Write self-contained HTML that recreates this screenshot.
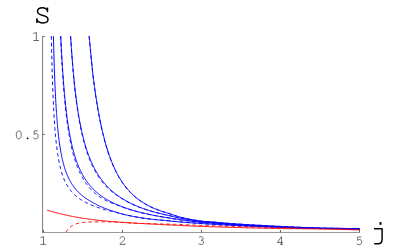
<!DOCTYPE html>
<html><head><meta charset="utf-8"><style>
html,body{margin:0;padding:0;background:#fff;}
body{width:403px;height:249px;overflow:hidden;position:relative;font-family:"Liberation Mono",monospace;color:#000;}
svg{position:absolute;left:0;top:0;}
</style></head><body>
<svg width="403" height="249" viewBox="0 0 403 249">
<g stroke="#333" stroke-width="0.65" fill="none">
<path d="M42.6 36.2V232.7"/>
<path d="M42.3 232.5H359.8" stroke-width="0.5"/>
<path d="M42.6 36.5H45.1"/>
<path d="M42.6 134.45H45.1"/>
<path stroke-width="0.75" d="M43.5 232.4V230M122.5 232.4V230M201.5 232.4V230M280.5 232.4V230M359.5 232.4V230"/>
</g>
<path d="M53.44 36.20 L53.49 38.33 L53.56 41.56 L53.64 44.69 L53.72 47.70 L53.80 50.62 L53.88 53.44 L53.95 56.16 L54.03 58.80 L54.11 61.36 L54.19 63.84 L54.27 66.24 L54.35 68.56 L54.42 70.82 L54.50 73.01 L54.58 75.13 L54.66 77.20 L54.74 79.20 L54.81 81.15 L54.89 83.05 L54.97 84.89 L55.05 86.69 L55.13 88.43 L55.20 90.13 L55.28 91.79 L55.36 93.40 L55.44 94.97 L55.52 96.50 L55.59 98.00 L55.67 99.45 L55.75 100.87 L55.83 102.26 L55.91 103.62 L55.99 104.94 L56.06 106.23 L56.14 107.49 L56.22 108.73 L56.30 109.93 L56.38 111.11 L56.45 112.27 L56.53 113.39 L56.61 114.50 L56.69 115.58 L56.77 116.64 L56.84 117.67 L56.92 118.69 L57.00 119.68 L57.08 120.65 L57.16 121.61 L57.24 122.54 L57.31 123.46 L57.39 124.35 L57.47 125.24 L57.55 126.10 L57.63 126.95 L57.70 127.78 L57.78 128.60 L57.86 129.40 L58.02 130.96 L58.17 132.46 L58.33 133.91 L58.48 135.32 L58.64 136.67 L58.80 137.98 L58.95 139.25 L59.11 140.48 L59.27 141.66 L59.42 142.81 L59.58 143.93 L59.73 145.01 L59.89 146.07 L60.05 147.09 L60.20 148.08 L60.36 149.04 L60.52 149.98 L60.67 150.89 L60.83 151.77 L60.98 152.64 L61.14 153.48 L61.30 154.30 L61.45 155.09 L61.69 156.25 L61.92 157.37 L62.16 158.45 L62.39 159.49 L62.62 160.49 L62.86 161.46 L63.09 162.40 L63.33 163.30 L63.56 164.18 L63.80 165.03 L64.03 165.86 L64.27 166.65 L64.50 167.43 L64.81 168.43 L65.12 169.39 L65.44 170.32 L65.75 171.21 L66.06 172.07 L66.37 172.90 L66.69 173.70 L67.00 174.48 L67.31 175.23 L67.70 176.13 L68.09 177.00 L68.48 177.84 L68.87 178.64 L69.26 179.42 L69.65 180.17 L70.05 180.89 L70.44 181.59 L70.90 182.40 L71.37 183.18 L71.84 183.92 L72.31 184.65 L72.78 185.34 L73.25 186.01 L73.72 186.66 L74.26 187.39 L74.81 188.09 L75.36 188.77 L75.90 189.42 L76.45 190.05 L77.00 190.66 L77.54 191.25 L78.17 191.90 L78.79 192.52 L79.42 193.13 L80.04 193.71 L80.67 194.27 L81.29 194.82 L81.92 195.34 L82.54 195.86 L83.25 196.41 L83.95 196.95 L84.65 197.47 L85.35 197.98 L86.06 198.47 L86.76 198.95 L87.46 199.41 L88.17 199.87 L88.87 200.31 L89.57 200.75 L90.28 201.17 L90.98 201.59 L91.68 202.00 L92.38 202.39 L93.09 202.78 L93.79 203.17 L94.57 203.58 L95.35 203.99 L96.13 204.39 L96.92 204.78 L97.70 205.16 L98.48 205.53 L99.26 205.90 L100.04 206.26 L100.82 206.61 L101.60 206.95 L102.38 207.29 L103.16 207.62 L103.95 207.94 L104.73 208.26 L105.51 208.57 L106.29 208.87 L107.07 209.17 L107.85 209.46 L108.63 209.75 L109.41 210.02 L110.19 210.30 L110.98 210.56 L111.76 210.83 L112.54 211.09 L113.32 211.35 L114.10 211.61 L114.88 211.86 L115.66 212.11 L116.44 212.36 L117.22 212.60 L118.00 212.84 L118.79 213.07 L119.57 213.29 L120.35 213.51 L121.13 213.73 L121.91 213.94 L122.69 214.14 L123.47 214.33 L124.25 214.52 L125.03 214.70 L125.82 214.88 L126.60 215.05 L127.46 215.24 L128.32 215.43 L129.17 215.61 L130.03 215.79 L130.89 215.96 L131.75 216.13 L132.61 216.30 L133.47 216.47 L134.33 216.64 L135.19 216.80 L136.05 216.96 L136.91 217.11 L137.77 217.26 L138.63 217.40 L139.49 217.54 L140.34 217.68 L141.20 217.81 L142.06 217.94 L142.92 218.06 L143.78 218.19 L144.64 218.31 L145.50 218.42 L146.36 218.54 L147.22 218.66 L148.08 218.77 L148.94 218.88 L149.80 218.99 L150.66 219.09 L151.51 219.19 L152.37 219.28 L153.23 219.38 L154.09 219.47 L154.95 219.55 L155.81 219.64 L156.67 219.72 L157.53 219.80 L158.39 219.88 L159.25 219.96 L160.11 220.04 L160.97 220.12 L161.82 220.20 L162.68 220.27 L163.54 220.35 L164.40 220.43 L165.26 220.51 L166.12 220.59 L166.98 220.67 L167.84 220.76 L168.70 220.84 L169.56 220.93 L170.42 221.01 L171.28 221.10 L172.14 221.18 L172.99 221.27 L173.85 221.35 L174.71 221.43 L175.57 221.51 L176.43 221.59 L177.29 221.67 L178.15 221.75 L179.01 221.83 L179.87 221.90 L180.73 221.98 L181.59 222.06 L182.45 222.13 L183.31 222.20 L184.16 222.27 L185.02 222.34 L185.88 222.41 L186.74 222.48 L187.60 222.55 L188.46 222.61 L189.32 222.68 L190.18 222.74 L191.04 222.80 L191.90 222.87 L192.76 222.93 L193.62 222.99 L194.47 223.05 L195.33 223.11 L196.19 223.17 L197.05 223.23 L197.91 223.29 L198.77 223.35 L199.63 223.41 L200.49 223.46 L201.35 223.52 L202.21 223.58 L203.07 223.64 L203.93 223.69 L204.79 223.75 L205.64 223.80 L206.50 223.86 L207.36 223.91 L208.22 223.97 L209.08 224.02 L209.94 224.07 L210.80 224.12 L211.66 224.18 L212.52 224.23 L213.38 224.28 L214.24 224.33 L215.10 224.38 L215.96 224.44 L216.81 224.49 L217.67 224.54 L218.53 224.59 L219.39 224.64 L220.25 224.69 L221.11 224.75 L221.97 224.80 L222.83 224.85 L223.69 224.90 L224.55 224.95 L225.41 225.00 L226.27 225.04 L227.13 225.09 L227.98 225.14 L228.84 225.19 L229.70 225.24 L230.56 225.28 L231.42 225.33 L232.28 225.37 L233.14 225.42 L234.00 225.46 L234.86 225.51 L235.72 225.55 L236.58 225.60 L237.44 225.64 L238.29 225.68 L239.15 225.72 L240.01 225.77 L240.87 225.81 L241.73 225.85 L242.59 225.89 L243.45 225.93 L244.31 225.97 L245.17 226.01 L246.03 226.05 L246.89 226.09 L247.75 226.13 L248.61 226.17 L249.46 226.21 L250.32 226.25 L251.18 226.28 L252.04 226.32 L252.90 226.36 L253.76 226.40 L254.62 226.43 L255.48 226.47 L256.34 226.50 L257.20 226.54 L258.06 226.58 L258.92 226.61 L259.78 226.65 L260.63 226.68 L261.49 226.71 L262.35 226.75 L263.21 226.78 L264.07 226.82 L264.93 226.85 L265.79 226.88 L266.65 226.91 L267.51 226.95 L268.37 226.98 L269.23 227.01 L270.09 227.04 L270.94 227.07 L271.80 227.10 L272.66 227.14 L273.52 227.17 L274.38 227.20 L275.24 227.23 L276.10 227.26 L276.96 227.29 L277.82 227.32 L278.68 227.34 L279.54 227.37 L280.40 227.40 L281.26 227.43 L282.11 227.46 L282.97 227.49 L283.83 227.52 L284.69 227.54 L285.55 227.57 L286.41 227.60 L287.27 227.63 L288.13 227.65 L288.99 227.68 L289.85 227.70 L290.71 227.73 L291.57 227.76 L292.43 227.78 L293.28 227.81 L294.14 227.83 L295.00 227.86 L295.86 227.88 L296.72 227.91 L297.58 227.93 L298.44 227.96 L299.30 227.98 L300.16 228.01 L301.02 228.03 L301.88 228.06 L302.74 228.08 L303.59 228.10 L304.45 228.13 L305.31 228.15 L306.17 228.17 L307.03 228.19 L307.89 228.22 L308.75 228.24 L309.61 228.26 L310.47 228.28 L311.33 228.31 L312.19 228.33 L313.05 228.35 L313.91 228.37 L314.76 228.39 L315.62 228.41 L316.48 228.43 L317.34 228.45 L318.20 228.46 L319.06 228.48 L319.92 228.49 L320.78 228.50 L321.64 228.51 L322.50 228.52 L323.36 228.52 L324.22 228.53 L325.08 228.53 L325.93 228.54 L326.79 228.54 L327.65 228.54 L328.51 228.55 L329.37 228.55 L330.23 228.55 L331.09 228.55 L331.95 228.55 L332.81 228.55 L333.67 228.56 L334.53 228.56 L335.39 228.56 L336.25 228.56 L337.10 228.57 L337.96 228.57 L338.82 228.58 L339.68 228.59 L340.54 228.59 L341.40 228.60 L342.26 228.61 L343.12 228.63 L343.98 228.64 L344.84 228.65 L345.70 228.67 L346.56 228.69 L347.41 228.70 L348.27 228.72 L349.13 228.74 L349.99 228.75 L350.85 228.77 L351.71 228.79 L352.57 228.80 L353.43 228.82 L354.29 228.83 L355.15 228.85 L356.01 228.86 L356.87 228.88 L357.73 228.89 L358.58 228.91 L359.44 228.92 L359.60 228.93" fill="none" stroke="#0000ff" stroke-width="1.0"/>
<path d="M60.77 36.20 L60.84 37.69 L60.92 39.36 L61.00 41.00 L61.07 42.62 L61.15 44.21 L61.23 45.77 L61.31 47.31 L61.39 48.83 L61.47 50.32 L61.55 51.79 L61.63 53.23 L61.70 54.66 L61.78 56.06 L61.86 57.44 L61.94 58.80 L62.02 60.15 L62.10 61.47 L62.18 62.77 L62.26 64.05 L62.33 65.31 L62.41 66.56 L62.49 67.79 L62.57 69.00 L62.65 70.19 L62.73 71.37 L62.81 72.53 L62.88 73.67 L62.96 74.80 L63.04 75.91 L63.12 77.01 L63.20 78.09 L63.28 79.16 L63.36 80.21 L63.44 81.25 L63.51 82.27 L63.59 83.29 L63.67 84.28 L63.75 85.27 L63.83 86.24 L63.91 87.20 L63.99 88.15 L64.06 89.08 L64.14 90.01 L64.22 90.92 L64.30 91.82 L64.38 92.71 L64.46 93.58 L64.54 94.45 L64.62 95.31 L64.69 96.15 L64.77 96.99 L64.85 97.81 L64.93 98.63 L65.01 99.43 L65.17 101.02 L65.32 102.56 L65.48 104.07 L65.64 105.54 L65.80 106.98 L65.95 108.39 L66.11 109.77 L66.27 111.11 L66.43 112.43 L66.58 113.72 L66.74 114.98 L66.90 116.21 L67.05 117.42 L67.21 118.60 L67.37 119.76 L67.53 120.89 L67.68 122.01 L67.84 123.09 L68.00 124.16 L68.16 125.21 L68.31 126.23 L68.47 127.24 L68.63 128.22 L68.79 129.19 L68.94 130.14 L69.10 131.07 L69.26 131.98 L69.42 132.88 L69.57 133.76 L69.73 134.63 L69.89 135.48 L70.04 136.31 L70.20 137.13 L70.36 137.94 L70.52 138.73 L70.75 139.89 L70.99 141.02 L71.23 142.12 L71.46 143.20 L71.70 144.25 L71.93 145.27 L72.17 146.27 L72.41 147.25 L72.64 148.20 L72.88 149.13 L73.11 150.04 L73.35 150.93 L73.59 151.80 L73.82 152.65 L74.06 153.48 L74.29 154.30 L74.53 155.09 L74.77 155.87 L75.08 156.89 L75.40 157.87 L75.71 158.83 L76.02 159.76 L76.34 160.67 L76.65 161.56 L76.97 162.42 L77.28 163.26 L77.60 164.08 L77.91 164.88 L78.23 165.66 L78.54 166.43 L78.86 167.17 L79.25 168.07 L79.64 168.95 L80.04 169.81 L80.43 170.64 L80.82 171.45 L81.22 172.23 L81.61 173.00 L82.00 173.74 L82.40 174.47 L82.79 175.18 L83.26 176.00 L83.74 176.80 L84.21 177.58 L84.68 178.33 L85.15 179.07 L85.62 179.78 L86.10 180.47 L86.57 181.15 L87.04 181.81 L87.59 182.55 L88.14 183.28 L88.69 183.98 L89.24 184.66 L89.79 185.32 L90.35 185.97 L90.90 186.59 L91.45 187.20 L92.00 187.80 L92.63 188.45 L93.26 189.09 L93.89 189.72 L94.52 190.32 L95.14 190.91 L95.77 191.48 L96.40 192.03 L97.03 192.57 L97.66 193.10 L98.29 193.62 L98.92 194.12 L99.63 194.66 L100.34 195.20 L101.05 195.72 L101.75 196.22 L102.46 196.71 L103.17 197.19 L103.88 197.66 L104.59 198.12 L105.29 198.56 L106.00 199.00 L106.71 199.42 L107.42 199.83 L108.13 200.24 L108.84 200.63 L109.54 201.02 L110.25 201.40 L111.04 201.81 L111.83 202.21 L112.61 202.60 L113.40 202.98 L114.19 203.36 L114.97 203.72 L115.76 204.08 L116.55 204.43 L117.33 204.77 L118.12 205.10 L118.91 205.43 L119.69 205.75 L120.48 206.07 L121.27 206.37 L122.05 206.68 L122.84 206.97 L123.63 207.26 L124.42 207.55 L125.20 207.83 L125.99 208.10 L126.78 208.37 L127.56 208.63 L128.35 208.89 L129.14 209.15 L129.92 209.40 L130.71 209.64 L131.50 209.88 L132.28 210.12 L133.07 210.35 L133.86 210.58 L134.64 210.81 L135.43 211.03 L136.22 211.25 L137.00 211.46 L137.79 211.68 L138.58 211.88 L139.36 212.09 L140.15 212.29 L140.94 212.49 L141.73 212.68 L142.51 212.88 L143.30 213.06 L144.09 213.25 L144.87 213.44 L145.66 213.62 L146.45 213.80 L147.23 213.97 L148.02 214.14 L148.81 214.32 L149.59 214.48 L150.38 214.65 L151.17 214.81 L151.95 214.97 L152.74 215.13 L153.53 215.29 L154.31 215.44 L155.10 215.59 L155.89 215.74 L156.68 215.88 L157.54 216.04 L158.41 216.19 L159.27 216.35 L160.14 216.50 L161.00 216.65 L161.87 216.79 L162.73 216.94 L163.60 217.08 L164.46 217.22 L165.33 217.36 L166.20 217.50 L167.06 217.64 L167.93 217.77 L168.79 217.91 L169.66 218.05 L170.52 218.20 L171.39 218.35 L172.25 218.50 L173.12 218.65 L173.99 218.80 L174.85 218.95 L175.72 219.10 L176.58 219.25 L177.45 219.39 L178.31 219.53 L179.18 219.66 L180.04 219.78 L180.91 219.90 L181.78 220.02 L182.64 220.14 L183.51 220.26 L184.37 220.38 L185.24 220.49 L186.10 220.60 L186.97 220.71 L187.83 220.82 L188.70 220.93 L189.56 221.03 L190.43 221.14 L191.30 221.24 L192.16 221.34 L193.03 221.44 L193.89 221.54 L194.76 221.64 L195.62 221.73 L196.49 221.83 L197.35 221.92 L198.22 222.01 L199.09 222.10 L199.95 222.19 L200.82 222.27 L201.68 222.35 L202.55 222.43 L203.41 222.51 L204.28 222.58 L205.14 222.65 L206.01 222.71 L206.88 222.78 L207.74 222.84 L208.61 222.90 L209.47 222.97 L210.34 223.03 L211.20 223.09 L212.07 223.16 L212.93 223.22 L213.80 223.29 L214.67 223.35 L215.53 223.42 L216.40 223.49 L217.26 223.55 L218.13 223.62 L218.99 223.68 L219.86 223.75 L220.72 223.81 L221.59 223.88 L222.45 223.94 L223.32 224.00 L224.19 224.07 L225.05 224.13 L225.92 224.19 L226.78 224.25 L227.65 224.31 L228.51 224.37 L229.38 224.43 L230.24 224.48 L231.11 224.54 L231.98 224.60 L232.84 224.66 L233.71 224.71 L234.57 224.77 L235.44 224.82 L236.30 224.88 L237.17 224.93 L238.03 224.98 L238.90 225.03 L239.77 225.09 L240.63 225.14 L241.50 225.19 L242.36 225.24 L243.23 225.29 L244.09 225.34 L244.96 225.39 L245.82 225.43 L246.69 225.48 L247.55 225.53 L248.42 225.58 L249.29 225.62 L250.15 225.67 L251.02 225.72 L251.88 225.76 L252.75 225.81 L253.61 225.85 L254.48 225.90 L255.34 225.94 L256.21 225.98 L257.08 226.03 L257.94 226.07 L258.81 226.11 L259.67 226.16 L260.54 226.20 L261.40 226.24 L262.27 226.28 L263.13 226.33 L264.00 226.37 L264.87 226.41 L265.73 226.45 L266.60 226.49 L267.46 226.53 L268.33 226.57 L269.19 226.61 L270.06 226.65 L270.92 226.69 L271.79 226.73 L272.65 226.77 L273.52 226.81 L274.39 226.85 L275.25 226.88 L276.12 226.92 L276.98 226.96 L277.85 227.00 L278.71 227.03 L279.58 227.07 L280.44 227.10 L281.31 227.14 L282.18 227.17 L283.04 227.21 L283.91 227.24 L284.77 227.28 L285.64 227.31 L286.50 227.35 L287.37 227.38 L288.23 227.41 L289.10 227.45 L289.97 227.48 L290.83 227.51 L291.70 227.54 L292.56 227.57 L293.43 227.61 L294.29 227.64 L295.16 227.67 L296.02 227.70 L296.89 227.73 L297.75 227.76 L298.62 227.79 L299.49 227.82 L300.35 227.85 L301.22 227.88 L302.08 227.91 L302.95 227.94 L303.81 227.97 L304.68 227.99 L305.54 228.02 L306.41 228.05 L307.28 228.08 L308.14 228.10 L309.01 228.13 L309.87 228.16 L310.74 228.19 L311.60 228.21 L312.47 228.24 L313.33 228.27 L314.20 228.29 L315.07 228.32 L315.93 228.34 L316.80 228.36 L317.66 228.38 L318.53 228.40 L319.39 228.42 L320.26 228.43 L321.12 228.45 L321.99 228.46 L322.85 228.47 L323.72 228.48 L324.59 228.49 L325.45 228.50 L326.32 228.51 L327.18 228.51 L328.05 228.52 L328.91 228.52 L329.78 228.53 L330.64 228.53 L331.51 228.54 L332.38 228.54 L333.24 228.55 L334.11 228.56 L334.97 228.56 L335.84 228.57 L336.70 228.57 L337.57 228.58 L338.43 228.59 L339.30 228.60 L340.17 228.61 L341.03 228.62 L341.90 228.64 L342.76 228.65 L343.63 228.67 L344.49 228.68 L345.36 228.70 L346.22 228.72 L347.09 228.74 L347.95 228.76 L348.82 228.78 L349.69 228.80 L350.55 228.82 L351.42 228.84 L352.28 228.86 L353.15 228.87 L354.01 228.89 L354.88 228.91 L355.74 228.93 L356.61 228.95 L357.48 228.96 L358.34 228.98 L359.21 229.00 L359.60 229.01" fill="none" stroke="#0000ff" stroke-width="1.0"/>
<path d="M70.65 36.20 L70.71 37.09 L70.79 38.32 L70.86 39.54 L70.94 40.74 L71.01 41.93 L71.09 43.11 L71.17 44.27 L71.24 45.41 L71.32 46.54 L71.40 47.66 L71.47 48.77 L71.55 49.86 L71.63 50.94 L71.70 52.01 L71.78 53.07 L71.85 54.11 L71.93 55.15 L72.01 56.17 L72.08 57.18 L72.16 58.17 L72.24 59.16 L72.31 60.14 L72.39 61.10 L72.47 62.06 L72.54 63.00 L72.62 63.94 L72.69 64.86 L72.77 65.78 L72.85 66.68 L72.92 67.58 L73.00 68.46 L73.08 69.34 L73.15 70.21 L73.23 71.07 L73.31 71.92 L73.38 72.76 L73.46 73.59 L73.53 74.41 L73.61 75.23 L73.69 76.04 L73.76 76.84 L73.92 78.41 L74.07 79.96 L74.22 81.47 L74.37 82.96 L74.53 84.41 L74.68 85.84 L74.83 87.24 L74.99 88.62 L75.14 89.97 L75.29 91.30 L75.44 92.60 L75.60 93.88 L75.75 95.14 L75.90 96.37 L76.05 97.59 L76.21 98.78 L76.36 99.95 L76.51 101.10 L76.67 102.23 L76.82 103.35 L76.97 104.44 L77.12 105.52 L77.28 106.58 L77.43 107.62 L77.58 108.65 L77.73 109.66 L77.89 110.65 L78.04 111.63 L78.19 112.59 L78.35 113.54 L78.50 114.47 L78.65 115.39 L78.80 116.30 L78.96 117.19 L79.11 118.07 L79.26 118.93 L79.41 119.78 L79.57 120.62 L79.72 121.45 L79.87 122.27 L80.03 123.07 L80.18 123.87 L80.41 125.04 L80.64 126.18 L80.87 127.31 L81.10 128.40 L81.32 129.48 L81.55 130.54 L81.78 131.57 L82.01 132.59 L82.24 133.58 L82.47 134.56 L82.70 135.52 L82.93 136.46 L83.16 137.38 L83.39 138.29 L83.62 139.18 L83.84 140.05 L84.07 140.91 L84.30 141.75 L84.53 142.58 L84.76 143.39 L84.99 144.19 L85.22 144.98 L85.45 145.75 L85.75 146.76 L86.06 147.75 L86.36 148.72 L86.67 149.66 L86.98 150.59 L87.28 151.50 L87.59 152.38 L87.89 153.25 L88.20 154.10 L88.50 154.94 L88.81 155.76 L89.11 156.56 L89.42 157.35 L89.72 158.12 L90.03 158.87 L90.34 159.62 L90.72 160.52 L91.10 161.41 L91.48 162.28 L91.86 163.13 L92.24 163.95 L92.63 164.76 L93.01 165.56 L93.39 166.33 L93.77 167.09 L94.15 167.84 L94.54 168.57 L94.92 169.28 L95.38 170.12 L95.83 170.93 L96.29 171.73 L96.75 172.51 L97.21 173.27 L97.67 174.01 L98.12 174.74 L98.58 175.45 L99.04 176.15 L99.50 176.83 L99.96 177.49 L100.49 178.25 L101.03 178.99 L101.56 179.71 L102.10 180.42 L102.63 181.10 L103.16 181.78 L103.70 182.43 L104.23 183.08 L104.77 183.70 L105.30 184.32 L105.84 184.92 L106.45 185.59 L107.06 186.24 L107.67 186.88 L108.28 187.50 L108.89 188.11 L109.50 188.71 L110.11 189.29 L110.72 189.86 L111.34 190.41 L111.95 190.95 L112.56 191.48 L113.17 192.00 L113.86 192.58 L114.54 193.13 L115.23 193.68 L115.92 194.21 L116.60 194.73 L117.29 195.24 L117.98 195.74 L118.67 196.22 L119.35 196.70 L120.04 197.16 L120.73 197.62 L121.42 198.06 L122.10 198.50 L122.79 198.93 L123.48 199.34 L124.17 199.75 L124.93 200.20 L125.69 200.64 L126.46 201.06 L127.22 201.48 L127.98 201.89 L128.75 202.29 L129.51 202.68 L130.27 203.06 L131.04 203.44 L131.80 203.81 L132.57 204.17 L133.33 204.52 L134.09 204.87 L134.86 205.21 L135.62 205.54 L136.38 205.87 L137.15 206.19 L137.91 206.50 L138.67 206.81 L139.44 207.12 L140.20 207.41 L140.97 207.71 L141.73 207.99 L142.49 208.27 L143.26 208.55 L144.02 208.82 L144.78 209.09 L145.55 209.35 L146.31 209.61 L147.07 209.86 L147.84 210.11 L148.60 210.36 L149.37 210.60 L150.21 210.86 L151.05 211.12 L151.89 211.36 L152.73 211.61 L153.57 211.84 L154.41 212.08 L155.25 212.30 L156.09 212.53 L156.93 212.75 L157.77 212.96 L158.61 213.17 L159.45 213.38 L160.29 213.58 L161.13 213.78 L161.97 213.98 L162.81 214.17 L163.65 214.36 L164.49 214.55 L165.33 214.74 L166.17 214.92 L167.01 215.11 L167.85 215.29 L168.69 215.47 L169.53 215.66 L170.37 215.87 L171.21 216.07 L172.05 216.28 L172.89 216.50 L173.73 216.71 L174.57 216.93 L175.41 217.14 L176.25 217.35 L177.09 217.55 L177.93 217.74 L178.77 217.93 L179.61 218.10 L180.45 218.27 L181.29 218.43 L182.13 218.59 L182.97 218.74 L183.81 218.89 L184.65 219.05 L185.49 219.19 L186.33 219.34 L187.17 219.48 L188.01 219.62 L188.85 219.76 L189.69 219.90 L190.53 220.03 L191.37 220.17 L192.21 220.30 L193.05 220.42 L193.89 220.55 L194.73 220.67 L195.57 220.79 L196.41 220.91 L197.25 221.02 L198.09 221.14 L198.93 221.25 L199.77 221.35 L200.61 221.46 L201.45 221.55 L202.29 221.64 L203.13 221.73 L203.97 221.81 L204.81 221.88 L205.65 221.95 L206.49 222.02 L207.33 222.09 L208.17 222.15 L209.01 222.21 L209.85 222.28 L210.69 222.34 L211.53 222.41 L212.37 222.47 L213.21 222.55 L214.05 222.62 L214.89 222.70 L215.73 222.77 L216.57 222.85 L217.41 222.92 L218.25 222.99 L219.09 223.07 L219.93 223.14 L220.77 223.21 L221.61 223.28 L222.45 223.35 L223.29 223.42 L224.13 223.49 L224.97 223.56 L225.81 223.63 L226.65 223.70 L227.49 223.77 L228.33 223.83 L229.17 223.90 L230.01 223.96 L230.85 224.03 L231.69 224.09 L232.53 224.15 L233.37 224.21 L234.21 224.27 L235.05 224.33 L235.89 224.39 L236.73 224.45 L237.57 224.51 L238.41 224.57 L239.25 224.62 L240.09 224.68 L240.93 224.73 L241.77 224.79 L242.61 224.84 L243.45 224.90 L244.29 224.95 L245.13 225.00 L245.97 225.05 L246.81 225.10 L247.65 225.15 L248.49 225.20 L249.33 225.25 L250.17 225.30 L251.01 225.35 L251.85 225.40 L252.69 225.45 L253.53 225.49 L254.37 225.54 L255.21 225.59 L256.05 225.64 L256.89 225.68 L257.73 225.73 L258.57 225.78 L259.41 225.82 L260.25 225.87 L261.09 225.91 L261.93 225.96 L262.77 226.00 L263.61 226.05 L264.45 226.09 L265.29 226.14 L266.13 226.18 L266.97 226.23 L267.81 226.27 L268.65 226.31 L269.49 226.36 L270.33 226.40 L271.17 226.44 L272.01 226.48 L272.85 226.53 L273.69 226.57 L274.53 226.61 L275.37 226.65 L276.21 226.69 L277.05 226.73 L277.89 226.77 L278.73 226.80 L279.57 226.84 L280.41 226.88 L281.25 226.92 L282.09 226.96 L282.93 226.99 L283.77 227.03 L284.61 227.07 L285.45 227.10 L286.29 227.14 L287.13 227.17 L287.97 227.21 L288.81 227.24 L289.65 227.28 L290.49 227.31 L291.33 227.34 L292.17 227.38 L293.01 227.41 L293.85 227.44 L294.69 227.48 L295.53 227.51 L296.37 227.54 L297.21 227.57 L298.05 227.60 L298.89 227.64 L299.73 227.67 L300.57 227.70 L301.41 227.73 L302.25 227.76 L303.09 227.79 L303.93 227.82 L304.77 227.85 L305.61 227.88 L306.45 227.91 L307.29 227.93 L308.13 227.96 L308.97 227.99 L309.81 228.02 L310.65 228.05 L311.49 228.07 L312.33 228.10 L313.17 228.13 L314.01 228.15 L314.85 228.18 L315.69 228.21 L316.53 228.23 L317.37 228.25 L318.21 228.27 L319.05 228.29 L319.89 228.31 L320.73 228.32 L321.57 228.34 L322.41 228.35 L323.25 228.36 L324.09 228.37 L324.93 228.38 L325.77 228.39 L326.61 228.40 L327.45 228.40 L328.29 228.41 L329.13 228.42 L329.97 228.42 L330.81 228.43 L331.65 228.43 L332.49 228.44 L333.33 228.45 L334.17 228.45 L335.01 228.46 L335.85 228.47 L336.69 228.47 L337.53 228.48 L338.37 228.49 L339.21 228.50 L340.05 228.51 L340.89 228.52 L341.73 228.54 L342.57 228.55 L343.41 228.57 L344.25 228.59 L345.09 228.60 L345.93 228.62 L346.77 228.64 L347.61 228.66 L348.45 228.68 L349.29 228.70 L350.13 228.72 L350.97 228.74 L351.81 228.76 L352.65 228.78 L353.49 228.79 L354.33 228.81 L355.17 228.83 L356.01 228.85 L356.85 228.87 L357.69 228.88 L358.53 228.90 L359.37 228.92 L359.60 228.92" fill="none" stroke="#0000ff" stroke-width="1.0"/>
<path d="M89.16 36.20 L89.26 37.26 L89.33 38.11 L89.41 38.96 L89.49 39.80 L89.57 40.64 L89.65 41.47 L89.73 42.30 L89.81 43.13 L89.89 43.95 L89.97 44.76 L90.05 45.57 L90.12 46.37 L90.20 47.17 L90.35 48.76 L90.50 50.32 L90.65 51.87 L90.80 53.40 L90.94 54.91 L91.08 56.41 L91.22 57.88 L91.37 59.34 L91.51 60.78 L91.65 62.21 L91.79 63.62 L91.93 65.01 L92.07 66.39 L92.21 67.75 L92.35 69.10 L92.49 70.43 L92.63 71.74 L92.77 73.04 L92.92 74.33 L93.06 75.60 L93.21 76.86 L93.36 78.10 L93.51 79.33 L93.66 80.54 L93.81 81.74 L93.97 82.93 L94.12 84.11 L94.28 85.27 L94.44 86.42 L94.60 87.56 L94.75 88.68 L94.91 89.79 L95.07 90.89 L95.23 91.98 L95.39 93.06 L95.54 94.12 L95.70 95.18 L95.86 96.22 L96.02 97.25 L96.18 98.27 L96.33 99.28 L96.49 100.28 L96.65 101.26 L96.81 102.24 L96.97 103.21 L97.13 104.16 L97.28 105.11 L97.44 106.05 L97.60 106.97 L97.76 107.89 L97.92 108.80 L98.07 109.69 L98.23 110.58 L98.39 111.46 L98.55 112.33 L98.71 113.19 L98.86 114.05 L99.02 114.89 L99.18 115.73 L99.34 116.55 L99.50 117.37 L99.65 118.18 L99.81 118.98 L99.97 119.78 L100.13 120.56 L100.37 121.73 L100.60 122.87 L100.84 124.00 L101.08 125.12 L101.31 126.21 L101.55 127.29 L101.79 128.36 L102.03 129.40 L102.26 130.44 L102.50 131.46 L102.74 132.46 L102.97 133.45 L103.21 134.42 L103.45 135.38 L103.68 136.33 L103.92 137.26 L104.16 138.18 L104.40 139.09 L104.63 139.99 L104.87 140.87 L105.11 141.74 L105.34 142.60 L105.58 143.44 L105.82 144.28 L106.06 145.10 L106.29 145.91 L106.53 146.71 L106.77 147.50 L107.00 148.28 L107.24 149.04 L107.56 150.05 L107.87 151.04 L108.19 152.01 L108.51 152.97 L108.82 153.91 L109.14 154.83 L109.45 155.73 L109.77 156.62 L110.09 157.50 L110.40 158.36 L110.72 159.20 L111.04 160.03 L111.35 160.85 L111.67 161.65 L111.98 162.44 L112.30 163.21 L112.62 163.98 L112.93 164.73 L113.25 165.46 L113.64 166.37 L114.04 167.25 L114.43 168.12 L114.83 168.97 L115.22 169.81 L115.62 170.62 L116.01 171.42 L116.41 172.21 L116.80 172.98 L117.20 173.73 L117.60 174.47 L117.99 175.19 L118.39 175.91 L118.78 176.60 L119.25 177.42 L119.73 178.22 L120.20 179.01 L120.68 179.77 L121.15 180.52 L121.63 181.25 L122.10 181.97 L122.57 182.67 L123.05 183.35 L123.52 184.02 L124.00 184.68 L124.55 185.42 L125.10 186.15 L125.66 186.86 L126.21 187.56 L126.76 188.23 L127.32 188.89 L127.87 189.54 L128.42 190.17 L128.98 190.78 L129.53 191.38 L130.08 191.97 L130.71 192.62 L131.35 193.26 L131.98 193.88 L132.61 194.49 L133.24 195.07 L133.88 195.65 L134.51 196.21 L135.14 196.76 L135.77 197.29 L136.41 197.81 L137.04 198.31 L137.67 198.81 L138.38 199.35 L139.09 199.88 L139.80 200.39 L140.52 200.90 L141.23 201.38 L141.94 201.86 L142.65 202.32 L143.36 202.77 L144.07 203.21 L144.78 203.64 L145.49 204.06 L146.21 204.47 L146.92 204.87 L147.63 205.26 L148.34 205.64 L149.05 206.01 L149.84 206.41 L150.63 206.80 L151.42 207.18 L152.21 207.54 L153.00 207.90 L153.79 208.24 L154.58 208.58 L155.37 208.90 L156.16 209.22 L156.95 209.53 L157.74 209.83 L158.54 210.12 L159.33 210.41 L160.12 210.68 L160.91 210.96 L161.70 211.22 L162.49 211.48 L163.28 211.74 L164.07 211.99 L164.86 212.23 L165.65 212.47 L166.44 212.71 L167.23 212.95 L168.02 213.18 L168.81 213.41 L169.60 213.67 L170.39 213.93 L171.18 214.20 L171.97 214.47 L172.76 214.75 L173.55 215.03 L174.34 215.31 L175.13 215.59 L175.92 215.86 L176.71 216.12 L177.50 216.37 L178.29 216.61 L179.08 216.84 L179.87 217.05 L180.66 217.24 L181.46 217.44 L182.25 217.62 L183.04 217.81 L183.83 217.99 L184.62 218.17 L185.41 218.34 L186.20 218.51 L186.99 218.68 L187.78 218.84 L188.57 219.01 L189.36 219.16 L190.15 219.32 L190.94 219.47 L191.73 219.62 L192.52 219.76 L193.31 219.90 L194.10 220.04 L194.89 220.17 L195.68 220.31 L196.47 220.43 L197.26 220.56 L198.13 220.69 L199.00 220.82 L199.87 220.95 L200.74 221.06 L201.61 221.17 L202.48 221.26 L203.35 221.35 L204.22 221.42 L205.09 221.49 L205.96 221.55 L206.83 221.61 L207.69 221.67 L208.56 221.72 L209.43 221.78 L210.30 221.83 L211.17 221.89 L212.04 221.95 L212.91 222.01 L213.78 222.09 L214.65 222.16 L215.52 222.24 L216.39 222.32 L217.26 222.40 L218.13 222.47 L219.00 222.55 L219.87 222.62 L220.74 222.70 L221.61 222.77 L222.47 222.85 L223.34 222.92 L224.21 222.99 L225.08 223.06 L225.95 223.13 L226.82 223.20 L227.69 223.27 L228.56 223.34 L229.43 223.41 L230.30 223.48 L231.17 223.54 L232.04 223.61 L232.91 223.67 L233.78 223.73 L234.65 223.80 L235.52 223.86 L236.38 223.92 L237.25 223.98 L238.12 224.04 L238.99 224.09 L239.86 224.15 L240.73 224.21 L241.60 224.26 L242.47 224.32 L243.34 224.37 L244.21 224.42 L245.08 224.48 L245.95 224.53 L246.82 224.58 L247.69 224.63 L248.56 224.68 L249.43 224.73 L250.29 224.78 L251.16 224.83 L252.03 224.88 L252.90 224.93 L253.77 224.98 L254.64 225.03 L255.51 225.08 L256.38 225.13 L257.25 225.17 L258.12 225.22 L258.99 225.27 L259.86 225.32 L260.73 225.37 L261.60 225.42 L262.47 225.47 L263.34 225.51 L264.20 225.56 L265.07 225.61 L265.94 225.66 L266.81 225.71 L267.68 225.76 L268.55 225.81 L269.42 225.85 L270.29 225.90 L271.16 225.95 L272.03 226.00 L272.90 226.04 L273.77 226.09 L274.64 226.13 L275.51 226.18 L276.38 226.22 L277.25 226.26 L278.12 226.31 L278.98 226.35 L279.85 226.39 L280.72 226.44 L281.59 226.48 L282.46 226.52 L283.33 226.56 L284.20 226.60 L285.07 226.65 L285.94 226.69 L286.81 226.73 L287.68 226.77 L288.55 226.81 L289.42 226.85 L290.29 226.88 L291.16 226.92 L292.03 226.96 L292.89 227.00 L293.76 227.04 L294.63 227.08 L295.50 227.11 L296.37 227.15 L297.24 227.19 L298.11 227.22 L298.98 227.26 L299.85 227.30 L300.72 227.33 L301.59 227.37 L302.46 227.40 L303.33 227.44 L304.20 227.47 L305.07 227.51 L305.94 227.54 L306.80 227.58 L307.67 227.61 L308.54 227.64 L309.41 227.68 L310.28 227.71 L311.15 227.74 L312.02 227.77 L312.89 227.81 L313.76 227.84 L314.63 227.87 L315.50 227.90 L316.37 227.93 L317.24 227.96 L318.11 227.98 L318.98 228.01 L319.85 228.03 L320.71 228.05 L321.58 228.07 L322.45 228.09 L323.32 228.10 L324.19 228.12 L325.06 228.13 L325.93 228.15 L326.80 228.16 L327.67 228.17 L328.54 228.18 L329.41 228.19 L330.28 228.21 L331.15 228.22 L332.02 228.23 L332.89 228.24 L333.76 228.25 L334.62 228.26 L335.49 228.27 L336.36 228.28 L337.23 228.30 L338.10 228.31 L338.97 228.33 L339.84 228.34 L340.71 228.36 L341.58 228.38 L342.45 228.40 L343.32 228.42 L344.19 228.44 L345.06 228.46 L345.93 228.49 L346.80 228.51 L347.67 228.54 L348.54 228.56 L349.40 228.59 L350.27 228.61 L351.14 228.64 L352.01 228.66 L352.88 228.68 L353.75 228.71 L354.62 228.73 L355.49 228.75 L356.36 228.78 L357.23 228.80 L358.10 228.82 L358.97 228.85 L359.60 228.86" fill="none" stroke="#0000ff" stroke-width="1.0"/>
<path d="M47.10 210.26 L47.88 210.48 L48.66 210.69 L49.44 210.91 L50.23 211.12 L51.01 211.34 L51.79 211.55 L52.57 211.76 L53.35 211.97 L54.13 212.18 L54.91 212.38 L55.70 212.59 L56.48 212.79 L57.26 212.99 L58.04 213.19 L58.82 213.39 L59.60 213.58 L60.38 213.77 L61.17 213.96 L61.95 214.15 L62.73 214.33 L63.51 214.51 L64.29 214.69 L65.07 214.87 L65.85 215.04 L66.64 215.22 L67.50 215.40 L68.36 215.59 L69.21 215.76 L70.07 215.94 L70.93 216.11 L71.79 216.29 L72.65 216.45 L73.51 216.62 L74.37 216.78 L75.23 216.94 L76.09 217.09 L76.95 217.25 L77.81 217.40 L78.67 217.54 L79.53 217.69 L80.39 217.83 L81.25 217.97 L82.11 218.11 L82.97 218.24 L83.83 218.37 L84.69 218.50 L85.55 218.63 L86.41 218.75 L87.27 218.87 L88.13 218.99 L88.99 219.11 L89.85 219.23 L90.70 219.34 L91.56 219.45 L92.42 219.56 L93.28 219.67 L94.14 219.77 L95.00 219.88 L95.86 219.98 L96.72 220.08 L97.58 220.17 L98.44 220.27 L99.30 220.37 L100.16 220.46 L101.02 220.55 L101.88 220.64 L102.74 220.73 L103.60 220.81 L104.46 220.90 L105.32 220.98 L106.18 221.06 L107.04 221.14 L107.90 221.22 L108.76 221.30 L109.62 221.38 L110.48 221.45 L111.33 221.52 L112.19 221.60 L113.05 221.67 L113.91 221.74 L114.77 221.81 L115.63 221.88 L116.49 221.94 L117.35 222.01 L118.21 222.07 L119.07 222.14 L119.93 222.20 L120.79 222.26 L121.65 222.32 L122.51 222.38 L123.37 222.44 L124.23 222.50 L125.09 222.56 L125.95 222.61 L126.81 222.67 L127.67 222.72 L128.53 222.78 L129.39 222.83 L130.25 222.88 L131.11 222.94 L131.96 222.99 L132.82 223.04 L133.68 223.09 L134.54 223.14 L135.40 223.19 L136.26 223.23 L137.12 223.28 L137.98 223.33 L138.84 223.37 L139.70 223.42 L140.56 223.46 L141.42 223.51 L142.28 223.55 L143.14 223.60 L144.00 223.64 L144.86 223.69 L145.72 223.74 L146.58 223.78 L147.44 223.83 L148.30 223.87 L149.16 223.92 L150.02 223.96 L150.88 224.01 L151.74 224.05 L152.60 224.10 L153.45 224.14 L154.31 224.19 L155.17 224.24 L156.03 224.28 L156.89 224.33 L157.75 224.37 L158.61 224.41 L159.47 224.46 L160.33 224.50 L161.19 224.55 L162.05 224.59 L162.91 224.64 L163.77 224.68 L164.63 224.72 L165.49 224.77 L166.35 224.81 L167.21 224.85 L168.07 224.89 L168.93 224.94 L169.79 224.98 L170.65 225.02 L171.51 225.06 L172.37 225.10 L173.23 225.14 L174.08 225.18 L174.94 225.22 L175.80 225.26 L176.66 225.30 L177.52 225.34 L178.38 225.38 L179.24 225.42 L180.10 225.46 L180.96 225.50 L181.82 225.55 L182.68 225.59 L183.54 225.63 L184.40 225.67 L185.26 225.71 L186.12 225.75 L186.98 225.79 L187.84 225.83 L188.70 225.87 L189.56 225.91 L190.42 225.95 L191.28 225.99 L192.14 226.03 L193.00 226.07 L193.86 226.10 L194.72 226.14 L195.57 226.18 L196.43 226.21 L197.29 226.24 L198.15 226.28 L199.01 226.31 L199.87 226.34 L200.73 226.37 L201.59 226.40 L202.45 226.43 L203.31 226.46 L204.17 226.49 L205.03 226.52 L205.89 226.55 L206.75 226.58 L207.61 226.61 L208.47 226.64 L209.33 226.67 L210.19 226.69 L211.05 226.72 L211.91 226.75 L212.77 226.78 L213.63 226.81 L214.49 226.84 L215.35 226.86 L216.20 226.89 L217.06 226.92 L217.92 226.95 L218.78 226.97 L219.64 227.00 L220.50 227.03 L221.36 227.06 L222.22 227.08 L223.08 227.11 L223.94 227.14 L224.80 227.16 L225.66 227.19 L226.52 227.21 L227.38 227.24 L228.24 227.27 L229.10 227.29 L229.96 227.32 L230.82 227.34 L231.68 227.37 L232.54 227.39 L233.40 227.42 L234.26 227.44 L235.12 227.47 L235.98 227.49 L236.83 227.51 L237.69 227.54 L238.55 227.56 L239.41 227.59 L240.27 227.61 L241.13 227.63 L241.99 227.66 L242.85 227.68 L243.71 227.70 L244.57 227.73 L245.43 227.75 L246.29 227.77 L247.15 227.80 L248.01 227.82 L248.87 227.84 L249.73 227.86 L250.59 227.89 L251.45 227.91 L252.31 227.93 L253.17 227.95 L254.03 227.97 L254.89 228.00 L255.75 228.02 L256.61 228.04 L257.47 228.06 L258.32 228.08 L259.18 228.10 L260.04 228.13 L260.90 228.15 L261.76 228.17 L262.62 228.19 L263.48 228.21 L264.34 228.23 L265.20 228.25 L266.06 228.27 L266.92 228.30 L267.78 228.32 L268.64 228.34 L269.50 228.36 L270.36 228.38 L271.22 228.40 L272.08 228.42 L272.94 228.44 L273.80 228.46 L274.66 228.47 L275.52 228.49 L276.38 228.50 L277.24 228.52 L278.10 228.53 L278.95 228.54 L279.81 228.55 L280.67 228.56 L281.53 228.57 L282.39 228.58 L283.25 228.59 L284.11 228.60 L284.97 228.60 L285.83 228.61 L286.69 228.62 L287.55 228.62 L288.41 228.63 L289.27 228.63 L290.13 228.64 L290.99 228.64 L291.85 228.65 L292.71 228.65 L293.57 228.65 L294.43 228.66 L295.29 228.66 L296.15 228.67 L297.01 228.67 L297.87 228.68 L298.73 228.69 L299.58 228.69 L300.44 228.70 L301.30 228.71 L302.16 228.72 L303.02 228.73 L303.88 228.74 L304.74 228.75 L305.60 228.76 L306.46 228.77 L307.32 228.78 L308.18 228.80 L309.04 228.82 L309.90 228.83 L310.76 228.85 L311.62 228.87 L312.48 228.89 L313.34 228.90 L314.20 228.92 L315.06 228.94 L315.92 228.96 L316.78 228.97 L317.64 228.99 L318.50 229.01 L319.36 229.03 L320.22 229.04 L321.07 229.06 L321.93 229.08 L322.79 229.10 L323.65 229.11 L324.51 229.13 L325.37 229.15 L326.23 229.17 L327.09 229.18 L327.95 229.20 L328.81 229.22 L329.67 229.24 L330.53 229.25 L331.39 229.27 L332.25 229.29 L333.11 229.31 L333.97 229.32 L334.83 229.34 L335.69 229.36 L336.55 229.38 L337.41 229.39 L338.27 229.41 L339.13 229.43 L339.99 229.45 L340.85 229.46 L341.70 229.48 L342.56 229.50 L343.42 229.52 L344.28 229.53 L345.14 229.55 L346.00 229.57 L346.86 229.59 L347.72 229.60 L348.58 229.62 L349.44 229.64 L350.30 229.66 L351.16 229.67 L352.02 229.69 L352.88 229.71 L353.74 229.73 L354.60 229.74 L355.46 229.76 L356.32 229.78 L357.18 229.79 L358.04 229.81 L358.90 229.83 L359.60 229.84" fill="none" stroke="#ff0000" stroke-width="1.0"/>
<path d="M51.30 36.20 L51.37 39.58 L51.45 43.26 L51.53 46.80 L51.61 50.22 L51.69 53.51 L51.77 56.68 L51.85 59.75 L51.93 62.70 L52.00 65.56 L52.08 68.32 L52.16 70.99 L52.24 73.58 L52.32 76.07 L52.40 78.49 L52.48 80.84 L52.56 83.11 L52.63 85.31 L52.71 87.44 L52.79 89.51 L52.87 91.52 L52.95 93.47 L53.03 95.37 L53.11 97.21 L53.19 98.99 L53.26 100.73 L53.34 102.42 L53.42 104.07 L53.50 105.67 L53.58 107.23 L53.66 108.74 L53.74 110.22 L53.82 111.66 L53.89 113.06 L53.97 114.43 L54.05 115.76 L54.13 117.06 L54.21 118.33 L54.29 119.57 L54.37 120.78 L54.45 121.96 L54.53 123.11 L54.60 124.23 L54.68 125.33 L54.76 126.41 L54.84 127.46 L54.92 128.49 L55.00 129.49 L55.08 130.47 L55.16 131.44 L55.23 132.38 L55.31 133.30 L55.39 134.20 L55.47 135.08 L55.55 135.94 L55.63 136.79 L55.71 137.62 L55.79 138.43 L55.86 139.23 L56.02 140.78 L56.18 142.26 L56.34 143.70 L56.49 145.07 L56.65 146.40 L56.81 147.68 L56.97 148.92 L57.13 150.11 L57.28 151.26 L57.44 152.37 L57.60 153.45 L57.76 154.49 L57.91 155.50 L58.07 156.48 L58.23 157.42 L58.39 158.34 L58.54 159.23 L58.70 160.09 L58.86 160.93 L59.02 161.74 L59.17 162.53 L59.41 163.67 L59.65 164.77 L59.88 165.82 L60.12 166.83 L60.36 167.81 L60.59 168.74 L60.83 169.64 L61.06 170.51 L61.30 171.35 L61.54 172.15 L61.77 172.93 L62.09 173.93 L62.40 174.89 L62.72 175.80 L63.03 176.68 L63.35 177.52 L63.66 178.32 L63.98 179.10 L64.30 179.84 L64.69 180.74 L65.08 181.59 L65.48 182.40 L65.87 183.18 L66.26 183.93 L66.66 184.65 L67.13 185.47 L67.60 186.25 L68.08 187.00 L68.55 187.72 L69.02 188.41 L69.50 189.06 L70.05 189.80 L70.60 190.50 L71.15 191.16 L71.70 191.80 L72.25 192.42 L72.80 193.01 L73.43 193.65 L74.07 194.27 L74.70 194.86 L75.33 195.43 L75.96 195.97 L76.59 196.49 L77.22 197.00 L77.93 197.54 L78.63 198.07 L79.34 198.57 L80.05 199.05 L80.76 199.52 L81.47 199.97 L82.18 200.41 L82.89 200.83 L83.60 201.24 L84.31 201.63 L85.02 202.01 L85.73 202.39 L86.51 202.79 L87.30 203.17 L88.09 203.55 L88.88 203.92 L89.67 204.27 L90.45 204.62 L91.24 204.95 L92.03 205.28 L92.82 205.60 L93.61 205.90 L94.39 206.21 L95.18 206.50 L95.97 206.79 L96.76 207.07 L97.54 207.35 L98.33 207.61 L99.12 207.88 L99.91 208.14 L100.70 208.39 L101.48 208.63 L102.27 208.88 L103.06 209.11 L103.85 209.35 L104.64 209.57 L105.42 209.80 L106.21 210.02 L107.00 210.23 L107.79 210.45 L108.58 210.65 L109.36 210.82 L110.15 210.98 L110.94 211.13 L111.73 211.28 L112.51 211.44 L113.30 211.60 L114.09 211.78 L114.88 211.97 L115.67 212.17 L116.45 212.39 L117.24 212.61 L118.03 212.85 L118.82 213.08 L119.61 213.30 L120.39 213.53 L121.18 213.74 L121.97 213.95 L122.76 214.16 L123.55 214.35 L124.33 214.54 L125.12 214.72 L125.91 214.90 L126.70 215.07 L127.48 215.25 L128.27 215.42 L129.06 215.58 L129.85 215.75 L130.64 215.91 L131.42 216.07 L132.21 216.23 L133.00 216.38 L133.79 216.53 L134.58 216.68 L135.36 216.83 L136.15 216.98 L136.94 217.12 L137.81 217.26 L138.67 217.41 L139.54 217.55 L140.41 217.69 L141.27 217.82 L142.14 217.95 L143.01 218.08 L143.87 218.20 L144.74 218.32 L145.61 218.44 L146.47 218.56 L147.34 218.67 L148.21 218.79 L149.07 218.90 L149.94 219.00 L150.81 219.11 L151.67 219.21 L152.54 219.30 L153.41 219.39 L154.27 219.48 L155.14 219.57 L156.01 219.66 L156.87 219.74 L157.74 219.82 L158.61 219.90 L159.47 219.98 L160.34 220.06 L161.21 220.14 L162.07 220.22 L162.94 220.30 L163.81 220.38 L164.67 220.46 L165.54 220.54 L166.41 220.62 L167.27 220.70 L168.14 220.79 L169.01 220.87 L169.87 220.96 L170.74 221.05 L171.61 221.13 L172.47 221.21 L173.34 221.30 L174.21 221.38 L175.07 221.46 L175.94 221.55 L176.81 221.63 L177.67 221.71 L178.54 221.79 L179.41 221.86 L180.27 221.94 L181.14 222.02 L182.01 222.09 L182.87 222.17 L183.74 222.24 L184.61 222.31 L185.47 222.38 L186.34 222.45 L187.21 222.52 L188.07 222.58 L188.94 222.65 L189.81 222.71 L190.67 222.78 L191.54 222.84 L192.41 222.90 L193.27 222.96 L194.14 223.03 L195.01 223.09 L195.87 223.15 L196.74 223.21 L197.61 223.27 L198.47 223.33 L199.34 223.39 L200.21 223.44 L201.07 223.50 L201.94 223.56 L202.81 223.62 L203.67 223.68 L204.54 223.73 L205.41 223.79 L206.27 223.84 L207.14 223.90 L208.01 223.95 L208.87 224.01 L209.74 224.06 L210.61 224.11 L211.47 224.17 L212.34 224.22 L213.21 224.27 L214.07 224.32 L214.94 224.38 L215.81 224.43 L216.67 224.48 L217.54 224.53 L218.41 224.58 L219.28 224.64 L220.14 224.69 L221.01 224.74 L221.88 224.79 L222.74 224.84 L223.61 224.89 L224.48 224.94 L225.34 224.99 L226.21 225.04 L227.08 225.09 L227.94 225.14 L228.81 225.19 L229.68 225.23 L230.54 225.28 L231.41 225.33 L232.28 225.37 L233.14 225.42 L234.01 225.46 L234.88 225.51 L235.74 225.55 L236.61 225.60 L237.48 225.64 L238.34 225.68 L239.21 225.73 L240.08 225.77 L240.94 225.81 L241.81 225.85 L242.68 225.90 L243.54 225.94 L244.41 225.98 L245.28 226.02 L246.14 226.06 L247.01 226.10 L247.88 226.14 L248.74 226.18 L249.61 226.21 L250.48 226.25 L251.34 226.29 L252.21 226.33 L253.08 226.37 L253.94 226.40 L254.81 226.44 L255.68 226.48 L256.54 226.51 L257.41 226.55 L258.28 226.58 L259.14 226.62 L260.01 226.66 L260.88 226.69 L261.74 226.72 L262.61 226.76 L263.48 226.79 L264.34 226.83 L265.21 226.86 L266.08 226.89 L266.94 226.93 L267.81 226.96 L268.68 226.99 L269.54 227.02 L270.41 227.05 L271.28 227.09 L272.14 227.12 L273.01 227.15 L273.88 227.18 L274.74 227.21 L275.61 227.24 L276.48 227.27 L277.34 227.30 L278.21 227.33 L279.08 227.36 L279.94 227.39 L280.81 227.42 L281.68 227.45 L282.54 227.47 L283.41 227.50 L284.28 227.53 L285.14 227.56 L286.01 227.59 L286.88 227.61 L287.74 227.64 L288.61 227.67 L289.48 227.69 L290.34 227.72 L291.21 227.75 L292.08 227.77 L292.94 227.80 L293.81 227.82 L294.68 227.85 L295.54 227.88 L296.41 227.90 L297.28 227.93 L298.14 227.95 L299.01 227.98 L299.88 228.00 L300.74 228.02 L301.61 228.05 L302.48 228.07 L303.34 228.10 L304.21 228.12 L305.08 228.14 L305.94 228.17 L306.81 228.19 L307.68 228.21 L308.54 228.23 L309.41 228.26 L310.28 228.28 L311.14 228.30 L312.01 228.32 L312.88 228.35 L313.74 228.37 L314.61 228.39 L315.48 228.41 L316.34 228.43 L317.21 228.45 L318.08 228.46 L318.94 228.48 L319.81 228.49 L320.68 228.50 L321.54 228.51 L322.41 228.52 L323.28 228.52 L324.14 228.53 L325.01 228.53 L325.88 228.54 L326.74 228.54 L327.61 228.54 L328.48 228.54 L329.34 228.55 L330.21 228.55 L331.08 228.55 L331.94 228.55 L332.81 228.55 L333.68 228.56 L334.54 228.56 L335.41 228.56 L336.28 228.56 L337.14 228.57 L338.01 228.57 L338.88 228.58 L339.74 228.59 L340.61 228.59 L341.48 228.60 L342.34 228.61 L343.21 228.63 L344.08 228.64 L344.95 228.66 L345.81 228.67 L346.68 228.69 L347.55 228.71 L348.41 228.72 L349.28 228.74 L350.15 228.76 L351.01 228.77 L351.88 228.79 L352.75 228.80 L353.61 228.82 L354.48 228.84 L355.35 228.85 L356.21 228.87 L357.08 228.88 L357.95 228.90 L358.81 228.91 L359.60 228.93" fill="none" stroke="#0000ff" stroke-width="1.0" stroke-dasharray="3.5 3"/>
<path d="M60.59 36.20 L60.68 38.18 L60.76 39.90 L60.84 41.60 L60.92 43.27 L61.00 44.91 L61.07 46.52 L61.15 48.11 L61.23 49.67 L61.31 51.21 L61.39 52.73 L61.47 54.22 L61.55 55.68 L61.63 57.13 L61.70 58.55 L61.78 59.95 L61.86 61.33 L61.94 62.69 L62.02 64.03 L62.10 65.35 L62.18 66.65 L62.26 67.93 L62.33 69.20 L62.41 70.44 L62.49 71.67 L62.57 72.87 L62.65 74.07 L62.73 75.24 L62.81 76.40 L62.88 77.54 L62.96 78.67 L63.04 79.78 L63.12 80.87 L63.20 81.95 L63.28 83.02 L63.36 84.07 L63.44 85.11 L63.51 86.13 L63.59 87.14 L63.67 88.14 L63.75 89.12 L63.83 90.09 L63.91 91.05 L63.99 91.99 L64.06 92.93 L64.14 93.85 L64.22 94.76 L64.30 95.66 L64.38 96.54 L64.46 97.42 L64.54 98.28 L64.62 99.14 L64.69 99.98 L64.77 100.82 L64.85 101.64 L64.93 102.45 L65.01 103.26 L65.17 104.83 L65.32 106.38 L65.48 107.88 L65.64 109.35 L65.80 110.79 L65.95 112.19 L66.11 113.56 L66.27 114.91 L66.43 116.22 L66.58 117.50 L66.74 118.76 L66.90 119.99 L67.05 121.19 L67.21 122.37 L67.37 123.52 L67.53 124.65 L67.68 125.76 L67.84 126.84 L68.00 127.91 L68.16 128.95 L68.31 129.97 L68.47 130.97 L68.63 131.95 L68.79 132.91 L68.94 133.86 L69.10 134.79 L69.26 135.70 L69.42 136.59 L69.57 137.46 L69.73 138.32 L69.89 139.17 L70.04 140.00 L70.20 140.81 L70.36 141.61 L70.52 142.40 L70.75 143.55 L70.99 144.68 L71.23 145.77 L71.46 146.84 L71.70 147.88 L71.93 148.90 L72.17 149.89 L72.41 150.86 L72.64 151.80 L72.88 152.73 L73.11 153.63 L73.35 154.51 L73.59 155.37 L73.82 156.21 L74.06 157.04 L74.29 157.84 L74.53 158.63 L74.77 159.40 L75.08 160.40 L75.40 161.38 L75.71 162.32 L76.02 163.24 L76.34 164.14 L76.65 165.01 L76.97 165.87 L77.28 166.69 L77.60 167.50 L77.91 168.29 L78.23 169.06 L78.54 169.80 L78.94 170.71 L79.33 171.60 L79.72 172.46 L80.12 173.29 L80.51 174.10 L80.90 174.88 L81.30 175.65 L81.69 176.39 L82.08 177.11 L82.48 177.82 L82.95 178.64 L83.42 179.43 L83.89 180.20 L84.37 180.95 L84.84 181.68 L85.31 182.38 L85.78 183.06 L86.25 183.73 L86.80 184.48 L87.36 185.20 L87.91 185.91 L88.46 186.59 L89.01 187.25 L89.56 187.88 L90.11 188.50 L90.66 189.10 L91.21 189.69 L91.84 190.33 L92.47 190.95 L93.10 191.56 L93.73 192.14 L94.36 192.70 L94.99 193.25 L95.62 193.77 L96.25 194.29 L96.88 194.78 L97.58 195.32 L98.29 195.84 L99.00 196.35 L99.71 196.83 L100.42 197.31 L101.12 197.76 L101.83 198.20 L102.54 198.63 L103.25 199.04 L103.96 199.45 L104.67 199.84 L105.37 200.21 L106.16 200.62 L106.95 201.02 L107.73 201.40 L108.52 201.77 L109.31 202.11 L110.09 202.43 L110.88 202.73 L111.67 203.01 L112.46 203.30 L113.24 203.58 L114.03 203.87 L114.82 204.16 L115.60 204.47 L116.39 204.78 L117.18 205.10 L117.96 205.42 L118.75 205.74 L119.54 206.05 L120.32 206.36 L121.11 206.66 L121.90 206.96 L122.68 207.25 L123.47 207.53 L124.26 207.81 L125.04 208.08 L125.83 208.35 L126.62 208.61 L127.41 208.87 L128.19 209.12 L128.98 209.37 L129.77 209.61 L130.55 209.85 L131.34 210.08 L132.13 210.31 L132.91 210.54 L133.70 210.76 L134.49 210.98 L135.27 211.20 L136.06 211.41 L136.85 211.62 L137.63 211.82 L138.42 212.02 L139.21 212.22 L139.99 212.41 L140.78 212.61 L141.57 212.80 L142.35 212.98 L143.14 213.17 L143.93 213.35 L144.72 213.52 L145.50 213.70 L146.29 213.87 L147.08 214.04 L147.86 214.21 L148.65 214.38 L149.44 214.54 L150.22 214.70 L151.01 214.86 L151.80 215.02 L152.58 215.17 L153.37 215.32 L154.16 215.47 L154.94 215.62 L155.81 215.78 L156.68 215.93 L157.54 216.09 L158.41 216.24 L159.27 216.39 L160.14 216.54 L161.00 216.68 L161.87 216.82 L162.73 216.97 L163.60 217.11 L164.46 217.25 L165.33 217.38 L166.20 217.52 L167.06 217.66 L167.93 217.79 L168.79 217.93 L169.66 218.07 L170.52 218.21 L171.39 218.36 L172.25 218.51 L173.12 218.66 L173.99 218.81 L174.85 218.96 L175.72 219.11 L176.58 219.25 L177.45 219.39 L178.31 219.53 L179.18 219.66 L180.04 219.79 L180.91 219.91 L181.78 220.03 L182.64 220.15 L183.51 220.26 L184.37 220.38 L185.24 220.49 L186.10 220.60 L186.97 220.71 L187.83 220.82 L188.70 220.93 L189.56 221.04 L190.43 221.14 L191.30 221.24 L192.16 221.34 L193.03 221.44 L193.89 221.54 L194.76 221.64 L195.62 221.74 L196.49 221.83 L197.35 221.92 L198.22 222.01 L199.09 222.10 L199.95 222.19 L200.82 222.27 L201.68 222.35 L202.55 222.43 L203.41 222.51 L204.28 222.58 L205.14 222.65 L206.01 222.71 L206.88 222.78 L207.74 222.84 L208.61 222.90 L209.47 222.97 L210.34 223.03 L211.20 223.09 L212.07 223.16 L212.93 223.22 L213.80 223.29 L214.67 223.35 L215.53 223.42 L216.40 223.49 L217.26 223.55 L218.13 223.62 L218.99 223.68 L219.86 223.75 L220.72 223.81 L221.59 223.88 L222.45 223.94 L223.32 224.00 L224.19 224.07 L225.05 224.13 L225.92 224.19 L226.78 224.25 L227.65 224.31 L228.51 224.37 L229.38 224.43 L230.24 224.48 L231.11 224.54 L231.98 224.60 L232.84 224.66 L233.71 224.71 L234.57 224.77 L235.44 224.82 L236.30 224.88 L237.17 224.93 L238.03 224.98 L238.90 225.03 L239.77 225.09 L240.63 225.14 L241.50 225.19 L242.36 225.24 L243.23 225.29 L244.09 225.34 L244.96 225.39 L245.82 225.43 L246.69 225.48 L247.55 225.53 L248.42 225.58 L249.29 225.62 L250.15 225.67 L251.02 225.72 L251.88 225.76 L252.75 225.81 L253.61 225.85 L254.48 225.90 L255.34 225.94 L256.21 225.98 L257.08 226.03 L257.94 226.07 L258.81 226.11 L259.67 226.16 L260.54 226.20 L261.40 226.24 L262.27 226.28 L263.13 226.33 L264.00 226.37 L264.87 226.41 L265.73 226.45 L266.60 226.49 L267.46 226.53 L268.33 226.57 L269.19 226.61 L270.06 226.65 L270.92 226.69 L271.79 226.73 L272.65 226.77 L273.52 226.81 L274.39 226.85 L275.25 226.88 L276.12 226.92 L276.98 226.96 L277.85 227.00 L278.71 227.03 L279.58 227.07 L280.44 227.10 L281.31 227.14 L282.18 227.17 L283.04 227.21 L283.91 227.24 L284.77 227.28 L285.64 227.31 L286.50 227.35 L287.37 227.38 L288.23 227.41 L289.10 227.45 L289.97 227.48 L290.83 227.51 L291.70 227.54 L292.56 227.57 L293.43 227.61 L294.29 227.64 L295.16 227.67 L296.02 227.70 L296.89 227.73 L297.75 227.76 L298.62 227.79 L299.49 227.82 L300.35 227.85 L301.22 227.88 L302.08 227.91 L302.95 227.94 L303.81 227.97 L304.68 227.99 L305.54 228.02 L306.41 228.05 L307.28 228.08 L308.14 228.10 L309.01 228.13 L309.87 228.16 L310.74 228.19 L311.60 228.21 L312.47 228.24 L313.33 228.27 L314.20 228.29 L315.07 228.32 L315.93 228.34 L316.80 228.36 L317.66 228.38 L318.53 228.40 L319.39 228.42 L320.26 228.43 L321.12 228.45 L321.99 228.46 L322.85 228.47 L323.72 228.48 L324.59 228.49 L325.45 228.50 L326.32 228.51 L327.18 228.51 L328.05 228.52 L328.91 228.52 L329.78 228.53 L330.64 228.53 L331.51 228.54 L332.38 228.54 L333.24 228.55 L334.11 228.56 L334.97 228.56 L335.84 228.57 L336.70 228.57 L337.57 228.58 L338.43 228.59 L339.30 228.60 L340.17 228.61 L341.03 228.62 L341.90 228.64 L342.76 228.65 L343.63 228.67 L344.49 228.68 L345.36 228.70 L346.22 228.72 L347.09 228.74 L347.95 228.76 L348.82 228.78 L349.69 228.80 L350.55 228.82 L351.42 228.84 L352.28 228.86 L353.15 228.87 L354.01 228.89 L354.88 228.91 L355.74 228.93 L356.61 228.95 L357.48 228.96 L358.34 228.98 L359.21 229.00 L359.60 229.01" fill="none" stroke="#0000ff" stroke-width="1.0" stroke-dasharray="3.5 3"/>
<path d="M70.56 36.20 L70.63 37.42 L70.71 38.67 L70.79 39.90 L70.86 41.12 L70.94 42.32 L71.01 43.51 L71.09 44.68 L71.17 45.84 L71.24 46.99 L71.32 48.12 L71.40 49.24 L71.47 50.34 L71.55 51.44 L71.63 52.52 L71.70 53.59 L71.78 54.64 L71.85 55.69 L71.93 56.72 L72.01 57.74 L72.08 58.75 L72.16 59.75 L72.24 60.73 L72.31 61.71 L72.39 62.67 L72.47 63.63 L72.54 64.57 L72.62 65.51 L72.69 66.43 L72.77 67.35 L72.85 68.25 L72.92 69.15 L73.00 70.03 L73.08 70.91 L73.15 71.78 L73.23 72.64 L73.31 73.49 L73.38 74.33 L73.46 75.16 L73.53 75.98 L73.61 76.80 L73.69 77.61 L73.76 78.40 L73.92 79.98 L74.07 81.52 L74.22 83.04 L74.37 84.52 L74.53 85.98 L74.68 87.41 L74.83 88.81 L74.99 90.19 L75.14 91.54 L75.29 92.86 L75.44 94.16 L75.60 95.44 L75.75 96.70 L75.90 97.93 L76.05 99.15 L76.21 100.34 L76.36 101.51 L76.51 102.66 L76.67 103.79 L76.82 104.90 L76.97 106.00 L77.12 107.08 L77.28 108.13 L77.43 109.18 L77.58 110.20 L77.73 111.21 L77.89 112.20 L78.04 113.18 L78.19 114.14 L78.35 115.09 L78.50 116.02 L78.65 116.94 L78.80 117.84 L78.96 118.74 L79.11 119.61 L79.26 120.48 L79.41 121.33 L79.57 122.17 L79.72 123.00 L79.87 123.81 L80.03 124.62 L80.18 125.41 L80.41 126.58 L80.64 127.73 L80.87 128.85 L81.10 129.94 L81.32 131.02 L81.55 132.08 L81.78 133.11 L82.01 134.12 L82.24 135.12 L82.47 136.09 L82.70 137.05 L82.93 137.99 L83.16 138.91 L83.39 139.82 L83.62 140.70 L83.84 141.58 L84.07 142.43 L84.30 143.28 L84.53 144.10 L84.76 144.91 L84.99 145.71 L85.22 146.50 L85.45 147.27 L85.75 148.28 L86.06 149.26 L86.36 150.23 L86.67 151.17 L86.98 152.10 L87.28 153.00 L87.59 153.89 L87.89 154.75 L88.20 155.60 L88.50 156.44 L88.81 157.25 L89.11 158.05 L89.42 158.83 L89.72 159.60 L90.03 160.36 L90.34 161.10 L90.72 162.00 L91.10 162.88 L91.48 163.75 L91.86 164.59 L92.24 165.42 L92.63 166.22 L93.01 167.01 L93.39 167.78 L93.77 168.54 L94.15 169.28 L94.54 170.00 L94.92 170.71 L95.38 171.54 L95.83 172.35 L96.29 173.14 L96.75 173.91 L97.21 174.66 L97.67 175.40 L98.12 176.12 L98.58 176.82 L99.04 177.50 L99.50 178.18 L100.03 178.94 L100.57 179.68 L101.10 180.41 L101.64 181.11 L102.17 181.80 L102.71 182.47 L103.24 183.12 L103.78 183.76 L104.31 184.38 L104.84 184.99 L105.46 185.67 L106.07 186.33 L106.68 186.97 L107.29 187.59 L107.90 188.19 L108.51 188.78 L109.12 189.35 L109.73 189.89 L110.34 190.42 L111.03 190.99 L111.72 191.53 L112.40 192.07 L113.09 192.58 L113.78 193.09 L114.47 193.59 L115.15 194.09 L115.84 194.58 L116.53 195.08 L117.22 195.57 L117.90 196.05 L118.59 196.53 L119.28 197.00 L119.97 197.46 L120.65 197.91 L121.34 198.35 L122.03 198.78 L122.71 199.21 L123.40 199.62 L124.17 200.07 L124.93 200.51 L125.69 200.94 L126.46 201.36 L127.22 201.77 L127.98 202.17 L128.75 202.56 L129.51 202.94 L130.27 203.32 L131.04 203.69 L131.80 204.05 L132.57 204.40 L133.33 204.75 L134.09 205.09 L134.86 205.42 L135.62 205.75 L136.38 206.07 L137.15 206.38 L137.91 206.69 L138.67 206.99 L139.44 207.29 L140.20 207.58 L140.97 207.86 L141.73 208.14 L142.49 208.42 L143.26 208.69 L144.02 208.95 L144.78 209.22 L145.55 209.47 L146.31 209.72 L147.07 209.97 L147.84 210.22 L148.60 210.46 L149.44 210.72 L150.28 210.97 L151.12 211.22 L151.96 211.46 L152.80 211.70 L153.64 211.93 L154.48 212.16 L155.32 212.38 L156.16 212.60 L157.00 212.82 L157.84 213.03 L158.68 213.23 L159.52 213.44 L160.36 213.64 L161.20 213.83 L162.04 214.03 L162.88 214.22 L163.72 214.41 L164.56 214.59 L165.40 214.78 L166.24 214.96 L167.08 215.14 L167.92 215.32 L168.76 215.50 L169.60 215.70 L170.44 215.90 L171.28 216.10 L172.12 216.31 L172.96 216.53 L173.80 216.74 L174.64 216.95 L175.48 217.17 L176.32 217.37 L177.16 217.57 L178.00 217.77 L178.84 217.95 L179.68 218.12 L180.52 218.29 L181.36 218.45 L182.20 218.60 L183.04 218.76 L183.88 218.91 L184.72 219.06 L185.56 219.21 L186.40 219.35 L187.24 219.50 L188.08 219.64 L188.92 219.78 L189.76 219.91 L190.60 220.05 L191.44 220.18 L192.28 220.31 L193.12 220.44 L193.96 220.56 L194.80 220.68 L195.64 220.80 L196.48 220.92 L197.32 221.03 L198.16 221.15 L199.00 221.26 L199.84 221.36 L200.68 221.47 L201.52 221.56 L202.36 221.65 L203.20 221.74 L204.04 221.81 L204.88 221.89 L205.72 221.96 L206.56 222.03 L207.40 222.09 L208.24 222.16 L209.08 222.22 L209.92 222.28 L210.76 222.35 L211.60 222.41 L212.44 222.48 L213.28 222.55 L214.12 222.63 L214.96 222.70 L215.80 222.78 L216.64 222.85 L217.48 222.93 L218.32 223.00 L219.16 223.07 L220.00 223.15 L220.84 223.22 L221.68 223.29 L222.52 223.36 L223.36 223.43 L224.20 223.50 L225.04 223.57 L225.88 223.64 L226.72 223.70 L227.56 223.77 L228.40 223.84 L229.24 223.90 L230.08 223.97 L230.92 224.03 L231.76 224.09 L232.60 224.16 L233.44 224.22 L234.28 224.28 L235.12 224.34 L235.96 224.40 L236.80 224.46 L237.64 224.52 L238.48 224.57 L239.32 224.63 L240.16 224.68 L241.00 224.74 L241.84 224.79 L242.68 224.85 L243.52 224.90 L244.36 224.95 L245.20 225.00 L246.04 225.06 L246.88 225.11 L247.72 225.16 L248.56 225.21 L249.40 225.26 L250.24 225.31 L251.08 225.36 L251.92 225.40 L252.76 225.45 L253.60 225.50 L254.44 225.55 L255.28 225.59 L256.12 225.64 L256.96 225.69 L257.80 225.73 L258.64 225.78 L259.48 225.83 L260.32 225.87 L261.16 225.92 L262.00 225.96 L262.84 226.01 L263.68 226.05 L264.52 226.10 L265.36 226.14 L266.20 226.19 L267.05 226.23 L267.89 226.27 L268.73 226.32 L269.57 226.36 L270.41 226.40 L271.25 226.45 L272.09 226.49 L272.93 226.53 L273.77 226.57 L274.61 226.61 L275.45 226.65 L276.29 226.69 L277.13 226.73 L277.97 226.77 L278.81 226.81 L279.65 226.85 L280.49 226.88 L281.33 226.92 L282.17 226.96 L283.01 227.00 L283.85 227.03 L284.69 227.07 L285.53 227.11 L286.37 227.14 L287.21 227.18 L288.05 227.21 L288.89 227.25 L289.73 227.28 L290.57 227.31 L291.41 227.35 L292.25 227.38 L293.09 227.41 L293.93 227.45 L294.77 227.48 L295.61 227.51 L296.45 227.54 L297.29 227.58 L298.13 227.61 L298.97 227.64 L299.81 227.67 L300.65 227.70 L301.49 227.73 L302.33 227.76 L303.17 227.79 L304.01 227.82 L304.85 227.85 L305.69 227.88 L306.53 227.91 L307.37 227.94 L308.21 227.96 L309.05 227.99 L309.89 228.02 L310.73 228.05 L311.57 228.08 L312.41 228.10 L313.25 228.13 L314.09 228.16 L314.93 228.18 L315.77 228.21 L316.61 228.23 L317.45 228.25 L318.29 228.27 L319.13 228.29 L319.97 228.31 L320.81 228.32 L321.65 228.34 L322.49 228.35 L323.33 228.36 L324.17 228.37 L325.01 228.38 L325.85 228.39 L326.69 228.40 L327.53 228.40 L328.37 228.41 L329.21 228.42 L330.05 228.42 L330.89 228.43 L331.73 228.44 L332.57 228.44 L333.41 228.45 L334.25 228.45 L335.09 228.46 L335.93 228.47 L336.77 228.47 L337.61 228.48 L338.45 228.49 L339.29 228.50 L340.13 228.51 L340.97 228.53 L341.81 228.54 L342.65 228.55 L343.49 228.57 L344.33 228.59 L345.17 228.61 L346.01 228.63 L346.85 228.65 L347.69 228.66 L348.53 228.68 L349.37 228.70 L350.21 228.72 L351.05 228.74 L351.89 228.76 L352.73 228.78 L353.57 228.80 L354.41 228.81 L355.25 228.83 L356.09 228.85 L356.93 228.87 L357.77 228.89 L358.61 228.90 L359.45 228.92 L359.60 228.92" fill="none" stroke="#0000ff" stroke-width="1.0" stroke-dasharray="3.5 3"/>
<path d="M89.07 36.20 L89.18 37.37 L89.26 38.23 L89.33 39.08 L89.41 39.93 L89.49 40.77 L89.57 41.61 L89.65 42.45 L89.73 43.27 L89.81 44.10 L89.89 44.92 L89.97 45.73 L90.04 46.54 L90.12 47.34 L90.20 48.14 L90.35 49.73 L90.50 51.29 L90.64 52.84 L90.79 54.37 L90.93 55.88 L91.07 57.37 L91.21 58.85 L91.35 60.31 L91.49 61.75 L91.63 63.17 L91.77 64.58 L91.91 65.98 L92.05 67.35 L92.19 68.71 L92.33 70.06 L92.48 71.39 L92.62 72.70 L92.76 74.00 L92.91 75.29 L93.06 76.56 L93.20 77.82 L93.35 79.06 L93.50 80.29 L93.66 81.50 L93.81 82.70 L93.96 83.89 L94.12 85.07 L94.28 86.23 L94.44 87.38 L94.60 88.51 L94.75 89.64 L94.91 90.75 L95.07 91.85 L95.23 92.93 L95.39 94.01 L95.54 95.07 L95.70 96.13 L95.86 97.17 L96.02 98.20 L96.18 99.22 L96.33 100.22 L96.49 101.22 L96.65 102.21 L96.81 103.18 L96.97 104.15 L97.13 105.11 L97.28 106.05 L97.44 106.99 L97.60 107.91 L97.76 108.83 L97.92 109.74 L98.07 110.63 L98.23 111.52 L98.39 112.40 L98.55 113.27 L98.71 114.13 L98.86 114.98 L99.02 115.82 L99.18 116.66 L99.34 117.48 L99.50 118.30 L99.65 119.11 L99.81 119.91 L99.97 120.70 L100.13 121.49 L100.37 122.65 L100.60 123.79 L100.84 124.92 L101.08 126.03 L101.31 127.13 L101.55 128.20 L101.79 129.27 L102.03 130.31 L102.26 131.34 L102.50 132.36 L102.74 133.36 L102.97 134.35 L103.21 135.32 L103.45 136.28 L103.68 137.22 L103.92 138.15 L104.16 139.07 L104.40 139.97 L104.63 140.87 L104.87 141.74 L105.11 142.61 L105.34 143.46 L105.58 144.31 L105.82 145.14 L106.06 145.96 L106.29 146.76 L106.53 147.56 L106.77 148.34 L107.00 149.12 L107.32 150.13 L107.64 151.13 L107.95 152.11 L108.27 153.07 L108.59 154.02 L108.90 154.94 L109.22 155.85 L109.53 156.74 L109.85 157.61 L110.17 158.47 L110.48 159.31 L110.80 160.13 L111.11 160.94 L111.43 161.74 L111.75 162.52 L112.06 163.28 L112.38 164.03 L112.69 164.77 L113.09 165.67 L113.49 166.56 L113.88 167.42 L114.28 168.27 L114.67 169.10 L115.07 169.92 L115.46 170.72 L115.86 171.51 L116.25 172.29 L116.65 173.05 L117.04 173.80 L117.44 174.54 L117.83 175.26 L118.23 175.98 L118.62 176.68 L119.10 177.50 L119.57 178.30 L120.05 179.09 L120.52 179.85 L120.99 180.60 L121.47 181.34 L121.94 182.05 L122.42 182.75 L122.89 183.44 L123.36 184.11 L123.84 184.77 L124.39 185.51 L124.95 186.24 L125.50 186.95 L126.05 187.65 L126.61 188.32 L127.16 188.98 L127.71 189.63 L128.26 190.26 L128.82 190.87 L129.37 191.47 L129.92 192.06 L130.56 192.71 L131.19 193.34 L131.82 193.96 L132.45 194.57 L133.09 195.15 L133.72 195.73 L134.35 196.28 L134.98 196.83 L135.62 197.36 L136.25 197.87 L136.88 198.38 L137.51 198.87 L138.22 199.41 L138.93 199.94 L139.65 200.45 L140.36 200.95 L141.07 201.43 L141.78 201.90 L142.49 202.36 L143.20 202.81 L143.91 203.25 L144.63 203.67 L145.34 204.09 L146.05 204.49 L146.76 204.89 L147.47 205.28 L148.18 205.65 L148.89 206.02 L149.68 206.42 L150.47 206.81 L151.26 207.18 L152.05 207.55 L152.84 207.90 L153.64 208.24 L154.43 208.58 L155.22 208.90 L156.01 209.21 L156.80 209.52 L157.59 209.82 L158.38 210.11 L159.17 210.39 L159.96 210.67 L160.75 210.94 L161.54 211.20 L162.33 211.46 L163.12 211.71 L163.91 211.96 L164.70 212.21 L165.49 212.45 L166.28 212.68 L167.07 212.92 L167.86 213.15 L168.65 213.38 L169.44 213.63 L170.23 213.89 L171.02 214.15 L171.81 214.43 L172.60 214.70 L173.39 214.98 L174.18 215.26 L174.97 215.54 L175.76 215.81 L176.56 216.07 L177.35 216.33 L178.14 216.57 L178.93 216.80 L179.72 217.01 L180.51 217.21 L181.30 217.40 L182.09 217.59 L182.88 217.77 L183.67 217.96 L184.46 218.13 L185.25 218.31 L186.04 218.48 L186.83 218.65 L187.62 218.81 L188.41 218.97 L189.20 219.13 L189.99 219.29 L190.78 219.44 L191.57 219.59 L192.36 219.73 L193.15 219.87 L193.94 220.01 L194.73 220.15 L195.52 220.28 L196.31 220.41 L197.10 220.53 L197.97 220.67 L198.84 220.80 L199.71 220.92 L200.58 221.04 L201.45 221.15 L202.32 221.25 L203.19 221.33 L204.06 221.41 L204.93 221.48 L205.80 221.54 L206.67 221.60 L207.54 221.66 L208.41 221.71 L209.28 221.77 L210.14 221.82 L211.01 221.88 L211.88 221.94 L212.75 222.00 L213.62 222.07 L214.49 222.15 L215.36 222.23 L216.23 222.31 L217.10 222.38 L217.97 222.46 L218.84 222.53 L219.71 222.61 L220.58 222.68 L221.45 222.76 L222.32 222.83 L223.19 222.91 L224.06 222.98 L224.92 223.05 L225.79 223.12 L226.66 223.19 L227.53 223.26 L228.40 223.33 L229.27 223.40 L230.14 223.46 L231.01 223.53 L231.88 223.60 L232.75 223.66 L233.62 223.72 L234.49 223.79 L235.36 223.85 L236.23 223.91 L237.10 223.97 L237.97 224.03 L238.83 224.08 L239.70 224.14 L240.57 224.20 L241.44 224.25 L242.31 224.31 L243.18 224.36 L244.05 224.41 L244.92 224.47 L245.79 224.52 L246.66 224.57 L247.53 224.62 L248.40 224.67 L249.27 224.72 L250.14 224.77 L251.01 224.82 L251.88 224.87 L252.74 224.92 L253.61 224.97 L254.48 225.02 L255.35 225.07 L256.22 225.12 L257.09 225.17 L257.96 225.21 L258.83 225.26 L259.70 225.31 L260.57 225.36 L261.44 225.41 L262.31 225.46 L263.18 225.51 L264.05 225.55 L264.92 225.60 L265.79 225.65 L266.65 225.70 L267.52 225.75 L268.39 225.80 L269.26 225.85 L270.13 225.89 L271.00 225.94 L271.87 225.99 L272.74 226.03 L273.61 226.08 L274.48 226.12 L275.35 226.17 L276.22 226.21 L277.09 226.26 L277.96 226.30 L278.83 226.34 L279.70 226.39 L280.57 226.43 L281.43 226.47 L282.30 226.51 L283.17 226.56 L284.04 226.60 L284.91 226.64 L285.78 226.68 L286.65 226.72 L287.52 226.76 L288.39 226.80 L289.26 226.84 L290.13 226.88 L291.00 226.92 L291.87 226.96 L292.74 226.99 L293.61 227.03 L294.48 227.07 L295.34 227.11 L296.21 227.14 L297.08 227.18 L297.95 227.22 L298.82 227.25 L299.69 227.29 L300.56 227.33 L301.43 227.36 L302.30 227.40 L303.17 227.43 L304.04 227.47 L304.91 227.50 L305.78 227.54 L306.65 227.57 L307.52 227.60 L308.39 227.64 L309.25 227.67 L310.12 227.70 L310.99 227.74 L311.86 227.77 L312.73 227.80 L313.60 227.83 L314.47 227.87 L315.34 227.90 L316.21 227.93 L317.08 227.95 L317.95 227.98 L318.82 228.00 L319.69 228.03 L320.56 228.05 L321.43 228.07 L322.30 228.08 L323.16 228.10 L324.03 228.12 L324.90 228.13 L325.77 228.14 L326.64 228.16 L327.51 228.17 L328.38 228.18 L329.25 228.19 L330.12 228.20 L330.99 228.21 L331.86 228.22 L332.73 228.24 L333.60 228.25 L334.47 228.26 L335.34 228.27 L336.21 228.28 L337.08 228.29 L337.94 228.31 L338.81 228.32 L339.68 228.34 L340.55 228.35 L341.42 228.37 L342.29 228.39 L343.16 228.41 L344.03 228.43 L344.90 228.46 L345.77 228.48 L346.64 228.51 L347.51 228.53 L348.38 228.56 L349.25 228.58 L350.12 228.61 L350.99 228.63 L351.85 228.66 L352.72 228.68 L353.59 228.70 L354.46 228.73 L355.33 228.75 L356.20 228.77 L357.07 228.80 L357.94 228.82 L358.81 228.84 L359.60 228.86" fill="none" stroke="#0000ff" stroke-width="1.0" stroke-dasharray="3.5 3"/>
<path d="M65.97 232.20 L66.46 231.40 L66.91 230.73 L67.44 230.01 L67.96 229.35 L68.49 228.75 L69.09 228.11 L69.69 227.54 L70.37 226.96 L71.04 226.43 L71.72 225.96 L72.47 225.49 L73.22 225.07 L73.97 224.70 L74.72 224.37 L75.47 224.07 L76.30 223.78 L77.13 223.53 L77.95 223.30 L78.78 223.11 L79.60 222.93 L80.43 222.78 L81.26 222.65 L82.08 222.53 L82.91 222.43 L83.73 222.35 L84.56 222.28 L85.39 222.21 L86.21 222.16 L87.04 222.12 L87.87 222.08 L88.69 222.06 L89.52 222.04 L90.34 222.02 L91.17 222.00 L92.00 221.99 L92.82 221.97 L93.65 221.94 L94.47 221.92 L95.30 221.90 L96.13 221.88 L96.95 221.86 L97.78 221.85 L98.61 221.83 L99.43 221.82 L100.26 221.81 L101.08 221.80 L101.91 221.79 L102.74 221.79 L103.56 221.78 L104.39 221.79 L105.22 221.79 L106.04 221.79 L106.87 221.80 L107.69 221.81 L108.52 221.83 L109.35 221.84 L110.17 221.86 L111.00 221.88 L111.82 221.90 L112.65 221.93 L113.48 221.96 L114.30 221.99 L115.13 222.02 L115.96 222.05 L116.78 222.09 L117.61 222.13 L118.43 222.17 L119.26 222.21 L120.09 222.25 L120.91 222.30 L121.74 222.35 L122.56 222.40 L123.39 222.45 L124.22 222.50 L125.04 222.55 L125.87 222.61 L126.70 222.66 L127.52 222.72 L128.35 222.77 L129.17 222.82 L130.00 222.87 L130.83 222.92 L131.65 222.97 L132.48 223.01 L133.30 223.06 L134.13 223.10 L134.96 223.14 L135.78 223.18 L136.61 223.21 L137.44 223.25 L138.26 223.28 L139.09 223.32 L139.91 223.35 L140.74 223.38 L141.57 223.41 L142.39 223.43 L143.22 223.46 L144.04 223.49 L144.87 223.52 L145.70 223.54 L146.52 223.57 L147.35 223.59 L148.18 223.62 L149.00 223.64 L149.83 223.67 L150.65 223.69 L151.48 223.71 L152.31 223.73 L153.13 223.76 L153.96 223.78 L154.79 223.80 L155.61 223.82 L156.44 223.84 L157.26 223.86 L158.09 223.89 L158.92 223.91 L159.74 223.93 L160.57 223.95 L161.39 223.97 L162.22 223.99 L163.05 224.01 L163.87 224.03 L164.70 224.05 L165.53 224.07 L166.35 224.09 L167.18 224.11 L168.00 224.14 L168.83 224.16 L169.66 224.18 L170.48 224.20 L171.31 224.22 L172.13 224.24 L172.96 224.27 L173.79 224.29 L174.61 224.31 L175.44 224.34 L176.27 224.36 L177.09 224.39 L177.92 224.42 L178.74 224.44 L179.57 224.47 L180.40 224.51 L181.22 224.54 L182.05 224.57 L182.87 224.61 L183.70 224.64 L184.53 224.68 L185.35 224.72 L186.18 224.75 L187.01 224.79 L187.83 224.83 L188.66 224.87 L189.48 224.91 L190.31 224.95 L191.14 224.98 L191.96 225.02 L192.79 225.06 L193.62 225.09 L194.44 225.13 L195.27 225.16 L196.09 225.20 L196.92 225.23 L197.75 225.26 L198.57 225.29 L199.40 225.32 L200.22 225.35 L201.05 225.38 L201.88 225.41 L202.70 225.44 L203.53 225.47 L204.36 225.50 L205.18 225.53 L206.01 225.55 L206.83 225.58 L207.66 225.61 L208.49 225.64 L209.31 225.67 L210.14 225.69 L210.96 225.72 L211.79 225.75 L212.62 225.77 L213.44 225.80 L214.27 225.83 L215.10 225.86 L215.92 225.88 L216.75 225.91 L217.57 225.94 L218.40 225.96 L219.23 225.99 L220.05 226.01 L220.88 226.04 L221.70 226.07 L222.53 226.09 L223.36 226.12 L224.18 226.14 L225.01 226.17 L225.84 226.19 L226.66 226.22 L227.49 226.24 L228.31 226.27 L229.14 226.29 L229.97 226.32 L230.79 226.34 L231.62 226.37 L232.45 226.39 L233.27 226.41 L234.10 226.44 L234.92 226.46 L235.75 226.48 L236.58 226.51 L237.40 226.53 L238.23 226.55 L239.05 226.58 L239.88 226.60 L240.71 226.62 L241.53 226.64 L242.36 226.67 L243.19 226.69 L244.01 226.71 L244.84 226.73 L245.66 226.76 L246.49 226.78 L247.32 226.80 L248.14 226.82 L248.97 226.84 L249.79 226.86 L250.62 226.89 L251.45 226.91 L252.27 226.93 L253.10 226.95 L253.93 226.97 L254.75 226.99 L255.58 227.01 L256.40 227.03 L257.23 227.06 L258.06 227.08 L258.88 227.10 L259.71 227.12 L260.53 227.14 L261.36 227.16 L262.19 227.18 L263.01 227.20 L263.84 227.22 L264.67 227.24 L265.49 227.26 L266.32 227.28 L267.14 227.30 L267.97 227.32 L268.80 227.34 L269.62 227.36 L270.45 227.38 L271.28 227.40 L272.10 227.42 L272.93 227.44 L273.75 227.46 L274.58 227.47 L275.41 227.49 L276.23 227.50 L277.06 227.52 L277.88 227.53 L278.71 227.54 L279.54 227.55 L280.36 227.56 L281.19 227.57 L282.02 227.58 L282.84 227.59 L283.67 227.59 L284.49 227.61 L285.32 227.62 L286.15 227.64 L286.97 227.66 L287.80 227.68 L288.62 227.70 L289.45 227.73 L290.28 227.76 L291.10 227.79 L291.93 227.82 L292.76 227.85 L293.58 227.88 L294.41 227.91 L295.23 227.95 L296.06 227.98 L296.89 228.01 L297.71 228.05 L298.54 228.08 L299.36 228.11 L300.19 228.14 L301.02 228.17 L301.84 228.20 L302.67 228.22 L303.50 228.25 L304.32 228.27 L305.15 228.29 L305.97 228.31 L306.80 228.33 L307.63 228.34 L308.45 228.35 L309.28 228.37 L310.10 228.39 L310.93 228.40 L311.76 228.42 L312.58 228.44 L313.41 228.45 L314.24 228.47 L315.06 228.49 L315.89 228.51 L316.71 228.52 L317.54 228.54 L318.37 228.56 L319.19 228.57 L320.02 228.59 L320.85 228.61 L321.67 228.62 L322.50 228.64 L323.32 228.66 L324.15 228.67 L324.98 228.69 L325.80 228.71 L326.63 228.73 L327.45 228.74 L328.28 228.76 L329.11 228.78 L329.93 228.79 L330.76 228.81 L331.59 228.83 L332.41 228.84 L333.24 228.86 L334.06 228.88 L334.89 228.89 L335.72 228.91 L336.54 228.93 L337.37 228.94 L338.19 228.96 L339.02 228.98 L339.85 228.99 L340.67 229.01 L341.50 229.03 L342.33 229.04 L343.15 229.06 L343.98 229.08 L344.80 229.09 L345.63 229.11 L346.46 229.13 L347.28 229.14 L348.11 229.16 L348.93 229.18 L349.76 229.20 L350.59 229.21 L351.41 229.23 L352.24 229.25 L353.07 229.26 L353.89 229.28 L354.72 229.30 L355.54 229.31 L356.37 229.33 L357.20 229.35 L358.02 229.36 L358.85 229.38 L359.60 229.39" fill="none" stroke="#ff0000" stroke-width="1.0" stroke-dasharray="3.5 3"/>
<g stroke="#222" stroke-width="0.65" fill="none" stroke-linecap="butt" stroke-linejoin="round">
<path d="M0.4 1.4L3.4 0.4V8.4M0.3 8.4H6" transform="translate(33.00 32.10) scale(1 1.000)"/>
<path d="M3 0.4C4.5 0.4 5.5 1.9 5.5 4.45C5.5 7 4.5 8.5 3 8.5C1.5 8.5 0.5 7 0.5 4.45C0.5 1.9 1.5 0.4 3 0.4Z" transform="translate(15.80 130.40) scale(1 1.000)"/>
<rect x="26.70" y="137.40" width="1.8" height="1.8" rx="0.7" fill="#111" stroke="none"/>
<path d="M4.9 0.5H1.3V4C1.8 3.4 2.5 3.1 3.1 3.1C4.4 3.1 5.3 4.2 5.3 5.7C5.3 7.4 4.3 8.5 2.9 8.5C1.9 8.5 1 8.1 0.3 7.4" transform="translate(32.90 130.40) scale(1 1.000)"/>
<path d="M0.4 1.4L3.4 0.4V8.4M0.3 8.4H6" transform="translate(40.10 236.25) scale(1 0.970)"/>
<path d="M0.6 2.6C0.6 1.2 1.7 0.4 3 0.4C4.4 0.4 5.3 1.3 5.3 2.5C5.3 3.6 4.6 4.3 3.6 5.2L0.4 8.4H5.7V7.4" transform="translate(119.40 236.25) scale(1 0.970)"/>
<path d="M0.8 1.3C1.4 0.7 2.1 0.4 2.9 0.4C4.1 0.4 5.0 1.1 5.0 2.2C5.0 3.4 4.1 4.05 2.9 4.05C4.3 4.05 5.3 4.9 5.3 6.3C5.3 7.6 4.3 8.5 2.9 8.5C1.9 8.5 1 8.1 0.3 7.5" transform="translate(198.20 236.25) scale(1 0.970)"/>
<path d="M4.4 0.4L0.4 6.45H5.9M4.4 0.4V8.4M2.9 8.4H5.8" transform="translate(277.10 236.25) scale(1 0.970)"/>
<path d="M4.9 0.5H1.3V4C1.8 3.4 2.5 3.1 3.1 3.1C4.4 3.1 5.3 4.2 5.3 5.7C5.3 7.4 4.3 8.5 2.9 8.5C1.9 8.5 1 8.1 0.3 7.4" transform="translate(356.40 236.50) scale(1 0.970)"/>
</g>
<g stroke="#000" stroke-width="1.45" fill="none" stroke-linejoin="round">
<path d="M47.5 7.6V12.2M36.9 18.2V23"/>
<path d="M47.5 10.5C46.5 8.8 44.8 7.7 42.5 7.7C39.5 7.7 37.5 9.3 37.5 11.6C37.5 14 39.5 14.8 42.8 15.5C46 16.2 48 17.2 48 19.5C48 21.6 46 22.9 43 22.9C40.3 22.9 38 21.8 36.9 19.8"/>
<path d="M374 228.7H382.1V239.5C382.1 242.5 380.5 243.8 378 243.8H374.2"/>
</g>
<rect x="379.5" y="222.1" width="2" height="2.7" fill="#000"/>
</svg>
</body></html>
